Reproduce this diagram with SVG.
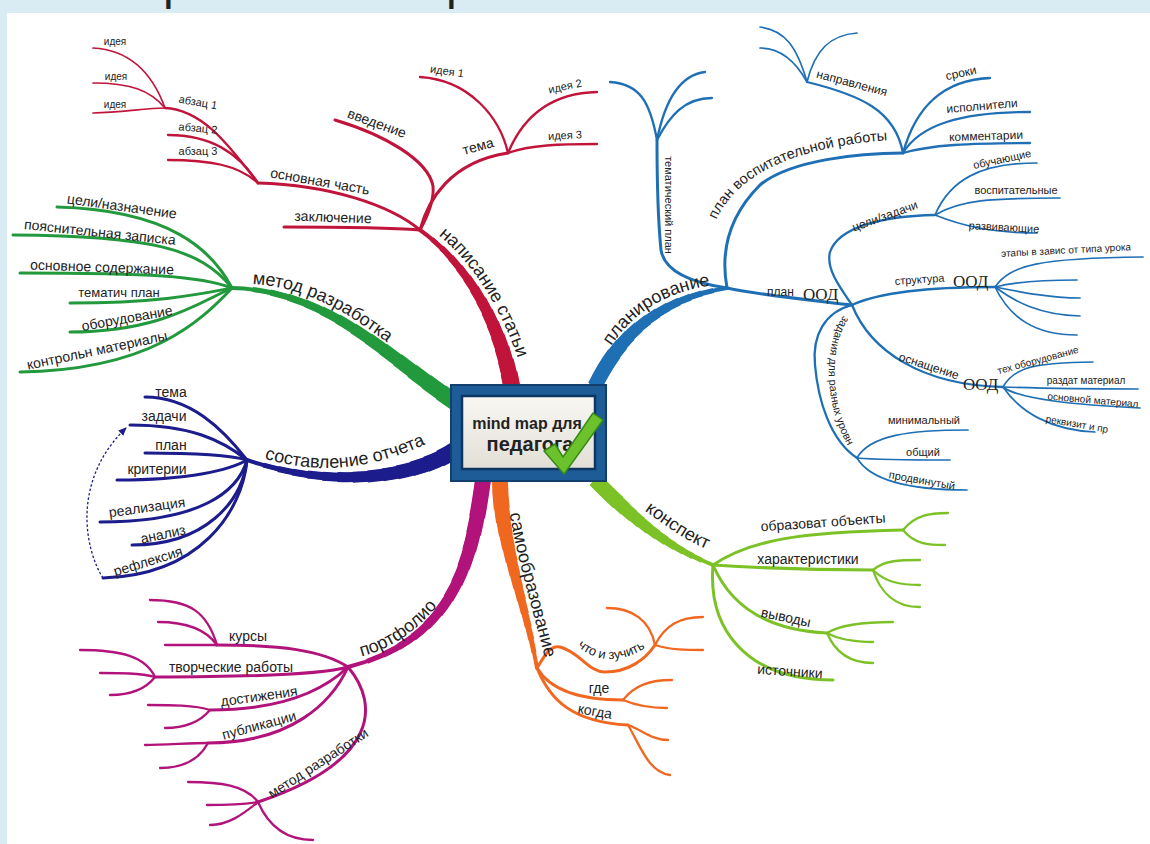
<svg xmlns="http://www.w3.org/2000/svg" width="1150" height="844" viewBox="0 0 1150 844">
<style>
.l1{fill:none;stroke-width:3;stroke-linecap:round}
.l2{fill:none;stroke-width:2.3;stroke-linecap:round}
.l3{fill:none;stroke-width:1.7;stroke-linecap:round}
.w{fill:none}
.a{stroke-width:4;stroke-linecap:round}
.b{stroke-width:5;stroke-dasharray:92 200}
.c{stroke-width:6;stroke-dasharray:85 200}
.d{stroke-width:7;stroke-dasharray:78 200}
.e{stroke-width:8;stroke-dasharray:71 200}
.f{stroke-width:9;stroke-dasharray:64 200}
.g{stroke-width:10;stroke-dasharray:57 200}
.h{stroke-width:11;stroke-dasharray:50 200}
.i{stroke-width:12;stroke-dasharray:43 200}
.j{stroke-width:13;stroke-dasharray:36 200}
.k{stroke-width:14;stroke-dasharray:29 200}
.m{stroke-width:15;stroke-dasharray:22 200}
.n{stroke-width:16;stroke-dasharray:15 200}
.o{stroke-width:17;stroke-dasharray:8 200}
.red{stroke:#c0143a}
.grn{stroke:#22993d}
.nav{stroke:#1c1c8c}
.mag{stroke:#b2137b}
.org{stroke:#f06820}
.lgr{stroke:#7cc226}
.blu{stroke:#1f6fb5}
text{font-family:"Liberation Sans",Arial,sans-serif;fill:#222}
.t{dominant-baseline:central;text-anchor:middle}
.big{font-size:18px}
.f14{font-size:14px}
.f13{font-size:13px}
.f12{font-size:12px}
.f11{font-size:11px}
.f10{font-size:10px}
.ser{font-family:"Liberation Serif","Times New Roman",serif;font-size:17px}
.tp{text-anchor:middle}
</style>
<defs>
<path id="bR" pathLength="100" d="M512,388 C500,320 465,262 420,230"/>
<path id="bG" pathLength="100" d="M458,404 C390,360 330,290 232,288"/>
<path id="bN" pathLength="100" d="M455,450 C420,474 340,492 247,460"/>
<path id="bM" pathLength="100" d="M483,480 C472,560 455,640 348,667"/>
<path id="bO" pathLength="100" d="M500,480 C500,540 525,600 537,668"/>
<path id="bL" pathLength="100" d="M595,480 C622,507 660,545 713,565"/>
<path id="bB" pathLength="100" d="M595,386 C615,345 650,300 727,288"/>
<g id="tR" class="w"><use href="#bR" class="a"/><use href="#bR" class="b"/><use href="#bR" class="c"/><use href="#bR" class="d"/><use href="#bR" class="e"/><use href="#bR" class="f"/><use href="#bR" class="g"/><use href="#bR" class="h"/><use href="#bR" class="i"/><use href="#bR" class="j"/><use href="#bR" class="k"/><use href="#bR" class="m"/><use href="#bR" class="n"/><use href="#bR" class="o"/></g>
<g id="tG" class="w"><use href="#bG" class="a"/><use href="#bG" class="b"/><use href="#bG" class="c"/><use href="#bG" class="d"/><use href="#bG" class="e"/><use href="#bG" class="f"/><use href="#bG" class="g"/><use href="#bG" class="h"/><use href="#bG" class="i"/><use href="#bG" class="j"/><use href="#bG" class="k"/><use href="#bG" class="m"/><use href="#bG" class="n"/><use href="#bG" class="o"/></g>
<g id="tN" class="w"><use href="#bN" class="a"/><use href="#bN" class="b"/><use href="#bN" class="c"/><use href="#bN" class="d"/><use href="#bN" class="e"/><use href="#bN" class="f"/><use href="#bN" class="g"/><use href="#bN" class="h"/><use href="#bN" class="i"/><use href="#bN" class="j"/><use href="#bN" class="k"/><use href="#bN" class="m"/><use href="#bN" class="n"/><use href="#bN" class="o"/></g>
<g id="tM" class="w"><use href="#bM" class="a"/><use href="#bM" class="b"/><use href="#bM" class="c"/><use href="#bM" class="d"/><use href="#bM" class="e"/><use href="#bM" class="f"/><use href="#bM" class="g"/><use href="#bM" class="h"/><use href="#bM" class="i"/><use href="#bM" class="j"/><use href="#bM" class="k"/><use href="#bM" class="m"/><use href="#bM" class="n"/></g>
<g id="tO" class="w"><use href="#bO" class="a"/><use href="#bO" class="b"/><use href="#bO" class="c"/><use href="#bO" class="d"/><use href="#bO" class="e"/><use href="#bO" class="f"/><use href="#bO" class="g"/><use href="#bO" class="h"/><use href="#bO" class="i"/><use href="#bO" class="j"/><use href="#bO" class="k"/><use href="#bO" class="m"/><use href="#bO" class="n"/></g>
<g id="tL" class="w"><use href="#bL" class="a"/><use href="#bL" class="b"/><use href="#bL" class="c"/><use href="#bL" class="d"/><use href="#bL" class="e"/><use href="#bL" class="f"/><use href="#bL" class="g"/><use href="#bL" class="h"/><use href="#bL" class="i"/><use href="#bL" class="j"/><use href="#bL" class="k"/><use href="#bL" class="m"/></g>
<g id="tB" class="w"><use href="#bB" class="a"/><use href="#bB" class="b"/><use href="#bB" class="c"/><use href="#bB" class="d"/><use href="#bB" class="e"/><use href="#bB" class="f"/><use href="#bB" class="g"/><use href="#bB" class="h"/><use href="#bB" class="i"/><use href="#bB" class="j"/><use href="#bB" class="k"/><use href="#bB" class="m"/></g>
<path id="lpR" d="M433,231 C470,258 502,308 520,365"/>
<path id="lpG" d="M244,284 C292,284 336,302 394,348"/>
<path id="lpN" d="M260,457 C300,470 355,478 430,442"/>
<path id="lpM" d="M354,658 C385,652 415,635 442,600"/>
<path id="lpO" d="M509,510 C517,560 533,610 546,662"/>
<path id="lpL" d="M638,506 C660,521 685,542 714,552"/>
<path id="lpB" d="M609,350 C628,318 660,292 715,285"/>
<path id="lpPV" d="M714,226 C723,200 745,180 770,168 C800,152 850,142 894,140"/>
<path id="lpZ" d="M846,312 C824,340 821,400 850,450"/>
<path id="lpC" d="M570,639 C590,662 620,668 654,642"/>
<linearGradient id="panel" x1="0" y1="0" x2="0" y2="1">
<stop offset="0" stop-color="#f8f7f3"/>
<stop offset="1" stop-color="#e2dfd6"/>
</linearGradient>
<marker id="arr" viewBox="0 0 10 10" refX="8" refY="5" markerWidth="7" markerHeight="7" orient="auto">
<path d="M0,1 L9,5 L0,9 Z" fill="#1c1c8c"/>
</marker>
</defs>

<rect x="0" y="0" width="1150" height="844" fill="#d9ecf3"/>
<rect x="7" y="13" width="1143" height="831" fill="#ffffff"/>
<text x="163" y="-1" font-family="Liberation Serif,serif" font-size="48" fill="#111">р</text>
<text x="446" y="-1" font-family="Liberation Serif,serif" font-size="48" fill="#111">р</text>

<g id="connectors">
<g class="red">
<use href="#tR"/>
<path class="l1" d="M420,230 C395,228 330,227 284,227"/>
<path class="l1" d="M420,230 C390,205 330,185 258,183"/>
<path class="l1" d="M420,230 C430,212 434,196 433,186 C428,160 385,135 335,120"/>
<path class="l1" d="M420,230 C428,200 450,162 508,153"/>
<path class="l2" d="M508,153 C500,118 470,80 420,77"/>
<path class="l2" d="M508,153 C525,112 555,93 597,92"/>
<path class="l2" d="M508,153 C530,145 560,144 597,144"/>
<path class="l2" d="M258,183 C232,150 205,110 165,108"/>
<path class="l2" d="M258,183 C238,152 210,135 168,135"/>
<path class="l2" d="M258,183 C238,165 210,160 168,160"/>
<path class="l3" d="M165,108 C152,72 130,50 93,48"/>
<path class="l3" d="M165,108 C150,90 130,83 93,83"/>
<path class="l3" d="M165,108 C145,108 120,113 93,113"/>
</g>
<g class="grn">
<use href="#tG"/>
<path class="l1" d="M232,288 C212,250 170,210 57,207"/>
<path class="l1" d="M232,288 C200,248 150,236 13,235"/>
<path class="l1" d="M232,288 C200,276 150,273 20,273"/>
<path class="l1" d="M232,288 C200,294 160,303 70,303"/>
<path class="l1" d="M232,288 C200,302 160,332 70,332"/>
<path class="l1" d="M232,288 C200,322 150,370 20,372"/>
</g>
<g class="nav">
<use href="#tN"/>
<path class="l1" d="M247,460 C222,428 190,397 145,397"/>
<path class="l1" d="M247,460 C222,440 190,425 130,425"/>
<path class="l1" d="M247,460 C230,455 200,453 145,453"/>
<path class="l1" d="M247,460 C230,470 190,480 117,480"/>
<path class="l1" d="M247,460 C238,492 200,522 100,522"/>
<path class="l1" d="M247,460 C242,502 205,545 132,545"/>
<path class="l1" d="M247,460 C242,512 200,575 103,578"/>
<path d="M103,578 C84,548 72,480 126,428" fill="none" stroke-width="1.3" stroke-dasharray="2.5 2" marker-end="url(#arr)"/>
</g>
<g class="mag">
<use href="#tM"/>
<path class="l1" d="M348,667 C322,650 280,645 217,645"/>
<path class="l1" d="M348,667 C320,675 250,677 155,677"/>
<path class="l1" d="M348,667 C322,692 280,710 210,710"/>
<path class="l1" d="M348,667 C332,702 292,743 208,743"/>
<path class="l1" d="M348,667 C380,705 378,762 258,802"/>
<path class="l2" d="M217,645 C207,612 190,600 150,600"/>
<path class="l2" d="M217,645 C205,628 185,622 158,622"/>
<path class="l2" d="M217,645 L165,645"/>
<path class="l2" d="M155,677 C145,656 120,650 80,650"/>
<path class="l2" d="M155,677 C140,673 120,673 100,673"/>
<path class="l2" d="M155,677 C145,690 130,695 110,695"/>
<path class="l2" d="M210,710 C195,705 170,705 148,705"/>
<path class="l2" d="M210,710 C200,722 185,728 165,728"/>
<path class="l2" d="M208,743 C190,743 165,745 145,745"/>
<path class="l2" d="M208,743 C200,758 185,768 160,768"/>
<path class="l2" d="M258,802 C245,785 220,782 188,782"/>
<path class="l2" d="M258,802 C240,805 225,805 207,805"/>
<path class="l2" d="M258,802 C242,815 228,825 210,825"/>
<path class="l2" d="M258,802 C268,825 285,840 313,840"/>
</g>
<g class="org">
<use href="#tO"/>
<path class="l1" d="M537,668 C545,655 550,645 560,647 C580,652 588,672 605,672 C628,672 645,660 655,645"/>
<path class="l1" d="M537,668 C550,690 580,700 623,700"/>
<path class="l1" d="M537,668 C550,700 572,722 628,725"/>
<path class="l2" d="M655,645 C650,620 632,608 607,608"/>
<path class="l2" d="M655,645 C665,625 680,617 703,617"/>
<path class="l2" d="M655,645 C670,650 688,650 703,650"/>
<path class="l2" d="M623,700 C635,685 650,680 672,680"/>
<path class="l2" d="M623,700 C635,705 650,708 667,708"/>
<path class="l2" d="M628,725 C642,730 652,740 668,740"/>
<path class="l2" d="M628,725 C640,745 648,772 670,775"/>
</g>
<g class="lgr">
<use href="#tL"/>
<path class="l1" d="M713,565 C750,540 800,532 903,530"/>
<path class="l1" d="M713,565 C760,568 820,570 873,570"/>
<path class="l1" d="M713,565 C728,600 760,630 827,633"/>
<path class="l1" d="M713,565 C708,625 742,680 833,680"/>
<path class="l2" d="M903,530 C915,515 930,513 948,513"/>
<path class="l2" d="M903,530 C915,545 930,545 945,545"/>
<path class="l2" d="M873,570 C885,560 900,560 920,560"/>
<path class="l2" d="M873,570 C885,582 900,585 920,585"/>
<path class="l2" d="M873,570 C880,592 895,607 920,607"/>
<path class="l2" d="M827,633 C840,625 860,622 893,622"/>
<path class="l2" d="M827,633 C840,640 855,642 873,642"/>
<path class="l2" d="M827,633 C835,652 850,663 873,663"/>
</g>
<g class="blu">
<use href="#tB"/>
<path class="l1" d="M727,288 C700,284 665,275 661,250 C658,220 657,180 657,140"/>
<path class="l1" d="M727,288 C720,250 730,215 760,185 C790,160 860,153 903,153"/>
<path class="l1" d="M727,288 C760,295 810,300 852,305"/>
<path class="l2" d="M657,140 C650,102 640,84 610,82"/>
<path class="l2" d="M657,140 C665,100 680,75 705,72"/>
<path class="l2" d="M657,140 C670,115 685,98 712,98"/>
<path class="l2" d="M903,153 C895,110 860,95 807,82"/>
<path class="l2" d="M903,153 C915,110 940,80 990,78"/>
<path class="l2" d="M903,153 C920,125 960,112 1030,112"/>
<path class="l2" d="M903,153 C930,145 970,143 1030,143"/>
<path class="l2" d="M852,305 C838,285 826,268 830,252 C838,228 880,216 935,215"/>
<path class="l2" d="M852,305 C880,292 930,287 995,287"/>
<path class="l2" d="M852,305 C870,350 920,385 1003,387"/>
<path class="l2" d="M852,305 C825,312 812,335 815,365 C818,400 830,440 857,458"/>
<path class="l3" d="M807,82 C797,47 785,30 760,27"/>
<path class="l3" d="M807,82 C795,60 780,48 760,48"/>
<path class="l3" d="M807,82 C815,50 830,35 857,33"/>
<path class="l3" d="M935,215 C950,180 980,163 1037,163"/>
<path class="l3" d="M935,215 C960,200 990,198 1060,198"/>
<path class="l3" d="M935,215 C960,225 990,233 1037,233"/>
<path class="l3" d="M995,287 C1010,265 1040,258 1143,257"/>
<path class="l3" d="M995,287 C1015,282 1040,280 1077,280"/>
<path class="l3" d="M995,287 C1020,292 1050,298 1080,298"/>
<path class="l3" d="M995,287 C1015,302 1040,315 1080,316"/>
<path class="l3" d="M995,287 C1010,318 1035,335 1077,335"/>
<path class="l3" d="M1003,387 C1015,365 1040,363 1093,362"/>
<path class="l3" d="M1003,387 C1030,388 1080,389 1138,389"/>
<path class="l3" d="M1003,387 C1020,400 1080,405 1140,408"/>
<path class="l3" d="M1003,387 C1020,412 1050,430 1095,432"/>
<path class="l3" d="M857,458 C870,435 910,430 968,430"/>
<path class="l3" d="M857,458 C880,460 910,460 950,460"/>
<path class="l3" d="M857,458 C870,480 910,490 967,490"/>
</g>
</g>

<g id="center">
<rect x="451" y="385" width="155" height="96" fill="#1e5c98" stroke="#123f6e" stroke-width="2"/>
<rect x="462" y="396" width="133" height="73" fill="url(#panel)" stroke="#0f3660" stroke-width="2.5"/>
<text x="527" y="429" font-size="16" font-weight="bold" fill="#333" text-anchor="middle">mind map для</text>
<text x="530" y="451" font-size="20" font-weight="bold" fill="#333" text-anchor="middle">педагога</text>
<path d="M544,451 L555,444 L563,457 L593,413 L603,420 L564,474 Z" fill="#6cc22d" stroke="#3a8a16" stroke-width="1.5" stroke-linejoin="round"/>
</g>

<g id="node-napisanie">
<text class="big"><textPath href="#lpR" startOffset="50%" class="tp">написание статьи</textPath></text>
<text class="t f14" x="333" y="217" transform="rotate(2 333 217)">заключение</text>
<text class="t f14" x="320" y="181" transform="rotate(10 320 181)">основная часть</text>
<text class="t f14" x="377" y="123" transform="rotate(20 377 123)">введение</text>
<text class="t f14" x="478" y="146" transform="rotate(-15 478 146)">тема</text>
<text class="t f11" x="447" y="71" transform="rotate(8 447 71)">идея 1</text>
<text class="t f11" x="565" y="86" transform="rotate(-12 565 86)">идея 2</text>
<text class="t f11" x="565" y="135" transform="rotate(-3 565 135)">идея 3</text>
<text class="t f11" x="198" y="102" transform="rotate(10 198 102)">абзац 1</text>
<text class="t f11" x="198" y="128" transform="rotate(5 198 128)">абзац 2</text>
<text class="t f11" x="198" y="151">абзац 3</text>
<text class="t f10" x="115" y="41">идея</text>
<text class="t f10" x="116" y="76">идея</text>
<text class="t f10" x="115" y="104">идея</text>
</g>

<g id="node-metod">
<text class="big"><textPath href="#lpG" startOffset="50%" class="tp">метод разработка</textPath></text>
<text class="t f14" x="122" y="206" transform="rotate(8 122 206)">цели/назначение</text>
<text class="t f14" x="100" y="232" transform="rotate(6 100 232)">пояснительная записка</text>
<text class="t f14" x="102" y="267" transform="rotate(2 102 267)">основное содержание</text>
<text class="t f13" x="119" y="292">тематич план</text>
<text class="t f14" x="127" y="318" transform="rotate(-10 127 318)">оборудование</text>
<text class="t f14" x="97" y="350" transform="rotate(-12 97 350)">контрольн материалы</text>
</g>

<g id="node-otchet">
<text class="big"><textPath href="#lpN" startOffset="50%" class="tp">составление отчета</textPath></text>
<text class="t f14" x="171" y="392">тема</text>
<text class="t f14" x="164" y="416">задачи</text>
<text class="t f14" x="171" y="445">план</text>
<text class="t f14" x="157" y="469">критерии</text>
<text class="t f14" x="147" y="507" transform="rotate(-8 147 507)">реализация</text>
<text class="t f14" x="163" y="534" transform="rotate(-12 163 534)">анализ</text>
<text class="t f14" x="148" y="561" transform="rotate(-17 148 561)">рефлексия</text>
</g>

<g id="node-portfolio">
<text class="big"><textPath href="#lpM" startOffset="50%" class="tp">портфолио</textPath></text>
<text class="t f14" x="248" y="636">курсы</text>
<text class="t f14" x="231" y="667">творческие работы</text>
<text class="t f14" x="259" y="696" transform="rotate(-8 259 696)">достижения</text>
<text class="t f14" x="259" y="725" transform="rotate(-15 259 725)">публикации</text>
<text class="t f14" x="318" y="763" transform="rotate(-33 318 763)">метод разработки</text>
</g>

<g id="node-samoobr">
<text class="big"><textPath href="#lpO" startOffset="50%" class="tp">самообразование</textPath></text>
<text class="f13"><textPath href="#lpC" startOffset="50%" class="tp">что и зучить</textPath></text>
<text class="t f14" x="599" y="688">где</text>
<text class="t f14" x="595" y="711" transform="rotate(10 595 711)">когда</text>
</g>

<g id="node-konspekt">
<text class="big"><textPath href="#lpL" startOffset="50%" class="tp">конспект</textPath></text>
<text class="t f14" x="823" y="522" transform="rotate(-4 823 522)">образоват объекты</text>
<text class="t f14" x="808" y="559">характеристики</text>
<text class="t f14" x="786" y="617" transform="rotate(12 786 617)">выводы</text>
<text class="t f14" x="790" y="671" transform="rotate(4 790 671)">источники</text>
</g>

<g id="node-planirovanie">
<text class="big"><textPath href="#lpB" startOffset="50%" class="tp">планирование</textPath></text>
<text class="t f11" x="669" y="205" transform="rotate(90 669 205)">тематический план</text>
<text style="font-size:14.5px"><textPath href="#lpPV" startOffset="50%" class="tp">план воспитательной работы</textPath></text>
<text class="t f12" x="852" y="83" transform="rotate(15 852 83)">направления</text>
<text class="t f12" x="961" y="73" transform="rotate(-12 961 73)">сроки</text>
<text class="t f12" x="982" y="106" transform="rotate(-5 982 106)">исполнители</text>
<text class="t f12" x="986" y="136" transform="rotate(-2 986 136)">комментарии</text>
<text class="f12" x="767" y="296">план</text>
<text class="ser" x="803" y="300">ООД</text>
<text class="t f12" x="885" y="216" transform="rotate(-20 885 216)">цели/задачи</text>
<text class="t f11" x="1002" y="159" transform="rotate(-12 1002 159)">обучающие</text>
<text class="t f11" x="1016" y="190">воспитательные</text>
<text class="t f11" x="1004" y="227" transform="rotate(3 1004 227)">развивающие</text>
<text class="f11" x="895" y="285" transform="rotate(-4 895 285)">структура</text>
<text class="ser" x="953" y="287">ООД</text>
<text class="t f10" x="1066" y="250" transform="rotate(-3 1066 250)">этапы в завис от типа урока</text>
<text class="t f12" x="929" y="366" transform="rotate(18 929 366)">оснащение</text>
<text class="ser" x="963" y="390">ООД</text>
<text class="t f10" x="1038" y="360" transform="rotate(-15 1038 360)">тех оборудование</text>
<text class="t f10" x="1086" y="380">раздат материал</text>
<text class="t f10" x="1093" y="400" transform="rotate(5 1093 400)">основной материал</text>
<text class="t f10" x="1077" y="424" transform="rotate(10 1077 424)">реквизит и пр</text>
<text class="f11"><textPath href="#lpZ" startOffset="50%" class="tp">задания для разных уровн</textPath></text>
<text class="t f11" x="924" y="420">минимальный</text>
<text class="t f11" x="923" y="452">общий</text>
<text class="t f11" x="922" y="480" transform="rotate(10 922 480)">продвинутый</text>
</g>
</svg>
